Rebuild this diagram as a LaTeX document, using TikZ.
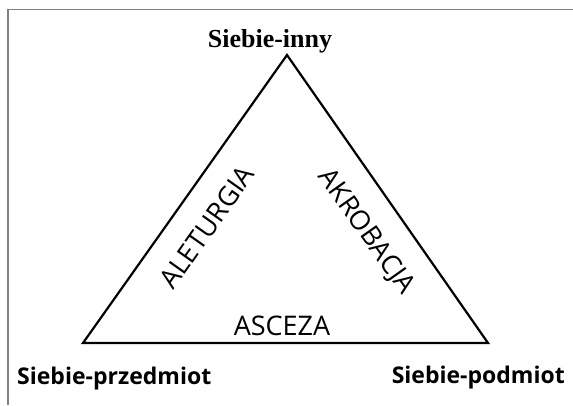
\documentclass[tikz,border=0pt]{standalone}
\usepackage{fontspec}
\setmainfont{Liberation Serif}
\newfontfamily\osans{Open Sans}
\tikzset{
  edge/.style={draw=black, line width=2.2pt, line join=miter},
  frame/.style={draw=black!50, line width=1.6pt},
  corner/.style={inner sep=0pt, font=\osans\bfseries\fontsize{23}{23}\selectfont},
  toplabel/.style={inner sep=0pt, font=\bfseries\fontsize{26}{26}\selectfont},
  sidelabel/.style={inner sep=0pt, font=\osans\fontsize{27}{27}\selectfont},
}
\begin{document}
\begin{tikzpicture}[x=1pt,y=1pt]
\useasboundingbox (0,0) rectangle (573,-405);
% frame
\coordinate (f1) at (8,-405);
\coordinate (f2) at (8,-9.5);
\coordinate (f3) at (573,-9.5);
\draw[frame] (f1) -- (f2) -- (f3);
% triangle
\coordinate (A) at (287,-55);
\coordinate (B) at (83,-343);
\coordinate (C) at (488,-343);
\draw[edge] (A) -- (B) -- (C) -- cycle;
% labels
\node[toplabel, anchor=base] (top) at (270,-47) {Siebie-inny};
\node[corner, anchor=base west] (left) at (17,-384) {Siebie-przedmiot};
\node[corner, anchor=base east] (right) at (565,-383) {Siebie-podmiot};
\node[sidelabel, anchor=base] (asc) at (282,-335) {ASCEZA};
\node[sidelabel, rotate=54.7] (ale) at (207,-227) {ALETURGIA};
\node[sidelabel, rotate=-54.7] (akr) at (366,-232) {AKROBACJA};
\end{tikzpicture}
\end{document}
